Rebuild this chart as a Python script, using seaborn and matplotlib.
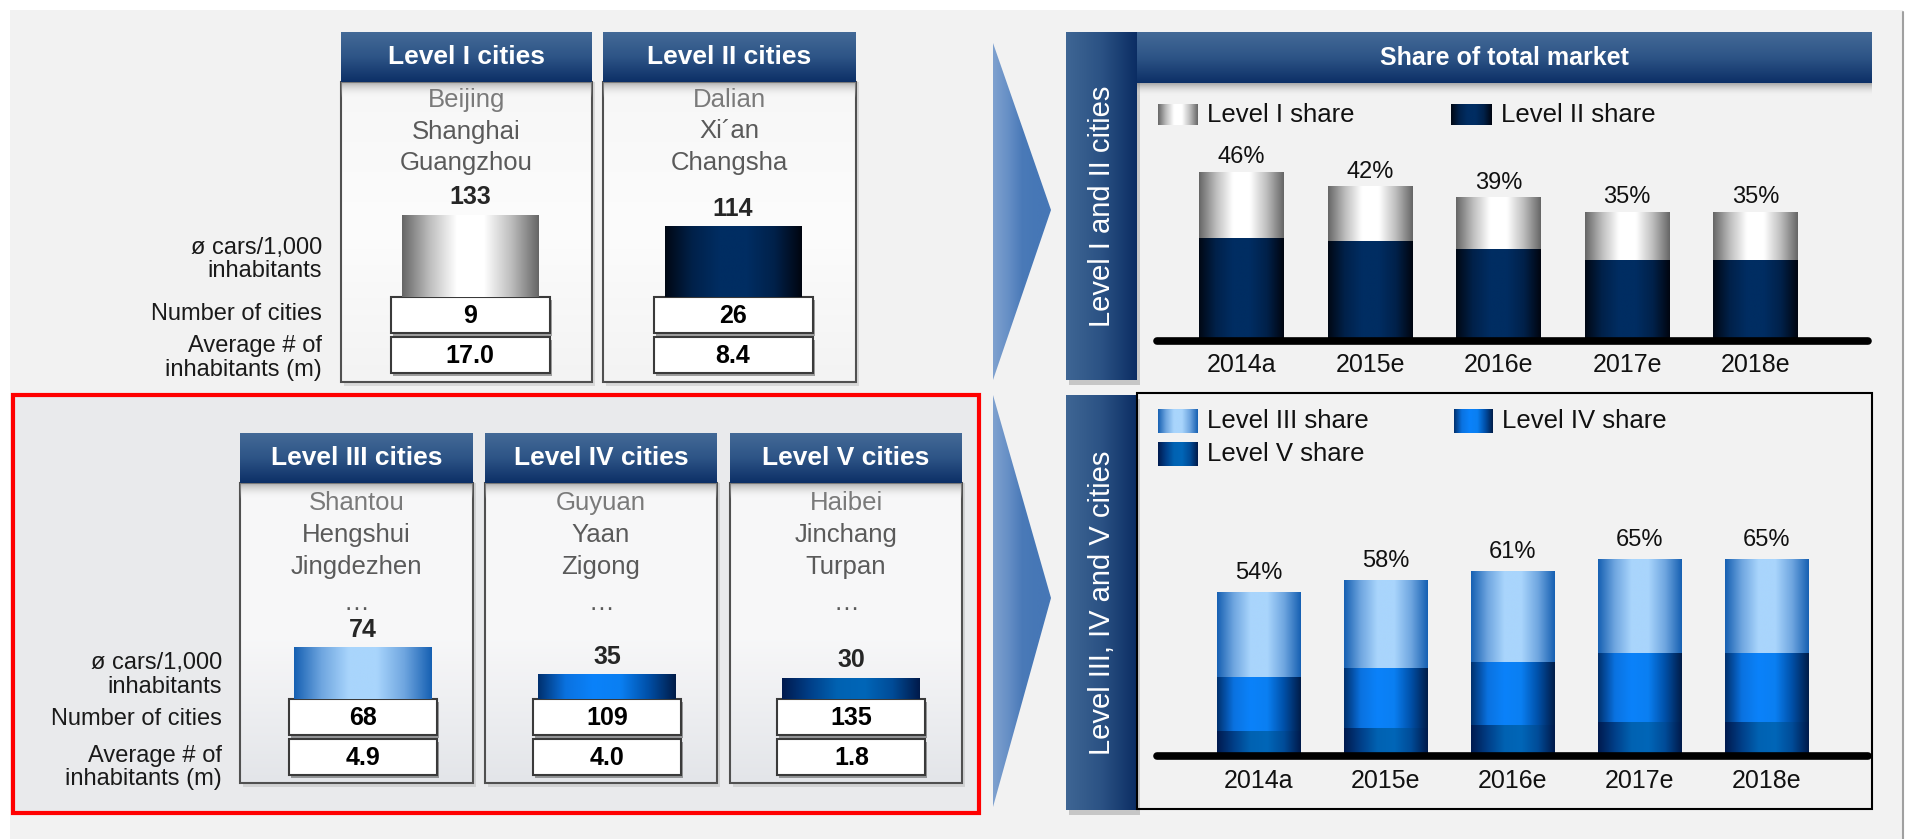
import numpy as np
import pandas as pd
import matplotlib
matplotlib.use("Agg")
import matplotlib.pyplot as plt
from matplotlib.patches import Rectangle, Polygon
from matplotlib.colors import to_rgba
import seaborn as sns

# ---------------- data ----------------
upper_levels = ["Level I cities", "Level II cities"]
upper_cities = [["Beijing", "Shanghai", "Guangzhou"],
                ["Dalian", "Xi\u00b4an", "Changsha"]]
upper_cars = [133, 114]
upper_num_cities = [9, 26]
upper_avg_inhab = [17.0, 8.4]

lower_levels = ["Level III cities", "Level IV cities", "Level V cities"]
lower_cities = [["Shantou", "Hengshui", "Jingdezhen", "\u2026"],
                ["Guyuan", "Yaan", "Zigong", "\u2026"],
                ["Haibei", "Jinchang", "Turpan", "\u2026"]]
lower_cars = [74, 35, 30]
lower_num_cities = [68, 109, 135]
lower_avg_inhab = [4.9, 4.0, 1.8]

years = ["2014a", "2015e", "2016e", "2017e", "2018e"]
share_l1 = [18, 15, 14, 13, 13]
share_l2 = [28, 27, 25, 22, 22]
share_l3 = [28, 29, 30, 31, 31]
share_l4 = [18, 20, 21, 23, 23]
share_l5 = [8, 9, 10, 11, 11]

row_labels = ["\u00f8 cars/1,000\ninhabitants", "Number of cities", "Average # of\ninhabitants (m)"]

# ---------------- styles ----------------
sns.set_theme(style="white")
plt.rcParams["font.family"] = ["Liberation Sans", "DejaVu Sans"]

GRAD = {
    "l1": ["#666666", "#bdbdbd", "#ffffff", "#ffffff", "#bdbdbd", "#666666"],
    "l2": ["#000814", "#00214a", "#002d62", "#002d62", "#00214a", "#000510"],
    "l3": ["#1660b2", "#6fa6e0", "#a9d5fc", "#a9d5fc", "#6fa6e0", "#1660b2"],
    "l4": ["#00306e", "#0a72e0", "#0a82fa", "#0a7ff2", "#0050a8", "#001c48"],
    "l5": ["#001a4e", "#003f88", "#0062b2", "#0066b8", "#004c98", "#001a4a"],
}
HEADER = ["#446a97", "#2d5486", "#0c2f66"]
SIDE = ["#3f6694", "#2b5284", "#0b2d63"]
W, H = 1909, 839


def grad_img(colors, n=256):
    cols = np.array([to_rgba(c) for c in colors])
    pos = np.linspace(0, 1, len(cols))
    t = np.linspace(0, 1, n)
    arr = np.stack([np.interp(t, pos, cols[:, k]) for k in range(4)], axis=-1)
    return arr[np.newaxis, :, :]


fig = plt.figure(figsize=(W / 100, H / 100), dpi=100)
fig.patch.set_facecolor("white")
bg = fig.add_axes([0, 0, 1, 1])
bg.set_xlim(0, W)
bg.set_ylim(H, 0)
bg.axis("off")


def rect(x0, y0, x1, y1, **kw):
    p = Rectangle((x0, y0), x1 - x0, y1 - y0, **kw)
    bg.add_patch(p)
    return p


def grad_rect(x0, y0, x1, y1, colors, vertical=False, zorder=1, clip=None):
    img = grad_img(colors)
    if vertical:
        img = img.transpose(1, 0, 2)
    im = bg.imshow(img, extent=(x0, x1, y1, y0), origin="upper", aspect="auto",
                   interpolation="bilinear", zorder=zorder)
    if clip is not None:
        im.set_clip_path(clip)
    return im


def px_axes(x0, y0, x1, y1):
    return fig.add_axes([x0 / W, 1 - y1 / H, (x1 - x0) / W, (y1 - y0) / H])


# ---------------- background ----------------
rect(10, 10, 1903, 839, fc="#f2f2f2", ec="none", zorder=0)
bg.plot([1903, 1903], [12, 839], color="#a0a0a0", lw=1.5, zorder=0.5)
rect(13, 395, 979, 813, fc="#e9eaec", ec="#ff0000", lw=3, zorder=1)


def column(x0, x1, yh0, yh1, yb1, title, body_cols):
    rect(x0 + 3, yh1, x1 + 3, yb1 + 4, fc="#000000", alpha=0.10, ec="none", zorder=2)
    grad_rect(x0, yh1, x1, yb1, body_cols, vertical=True, zorder=3)
    rect(x0, yh1, x1, yb1, fc="none", ec="#505050", lw=1.5, zorder=4)
    grad_rect(x0, yh1, x1, yh1 + 16, ["#8c8c8cb0", "#ffffff00"], vertical=True, zorder=4.5)
    grad_rect(x0, yh0, x1, yh1, HEADER, vertical=True, zorder=5)
    bg.text((x0 + x1) / 2, (yh0 + yh1) / 2, title, ha="center", va="center",
            color="white", fontsize=19, fontweight="bold", zorder=6)


def value_box(cx, w, y0, y1, text):
    rect(cx - w / 2 + 2, y0 + 3, cx + w / 2 + 2, y1 + 3, fc="#000000", alpha=0.35, ec="none", zorder=6)
    rect(cx - w / 2, y0, cx + w / 2, y1, fc="white", ec="#3a3a3a", lw=1.5, zorder=7)
    bg.text(cx, (y0 + y1) / 2 + 1, text, ha="center", va="center", fontsize=18,
            fontweight="bold", color="black", zorder=8)


def fmt(v):
    return f"{v:.1f}" if isinstance(v, float) else f"{v}"


# ---------------- left: upper panel ----------------
UP_AX = (338.5, 97, 864.5, 297)
up_step = (UP_AX[2] - UP_AX[0]) / len(upper_levels)
up_cols = [(341, 592), (603, 856)]
for i, lvl in enumerate(upper_levels):
    x0, x1 = up_cols[i]
    column(x0, x1, 32, 82, 382, lvl, ["#f7f7f7", "#fcfcfc", "#f3f3f3"])
    for j, c in enumerate(upper_cities[i]):
        bg.text((x0 + x1) / 2, 100 + j * 31.5, c, ha="center", va="center",
                fontsize=18.5, color="#7a7a7a" if j == 0 else "#5a5a5a", zorder=6)
    cx = UP_AX[0] + (i + 0.5) * up_step
    value_box(cx, 159, 297, 333, fmt(upper_num_cities[i]))
    value_box(cx, 159, 337, 373, fmt(upper_avg_inhab[i]))

for txt, y in zip(row_labels, [259.5, 314, 358]):
    bg.text(322, y, txt, ha="right", va="center", fontsize=17, color="#1a1a1a",
            linespacing=1.1, zorder=6)

# ---------------- left: lower panel ----------------
LO_AX = (241, 499, 973.5, 699)
lo_step = (LO_AX[2] - LO_AX[0]) / len(lower_levels)
lo_cols = [(240, 473), (485, 717), (730, 962)]
for i, lvl in enumerate(lower_levels):
    x0, x1 = lo_cols[i]
    column(x0, x1, 433, 483, 783, lvl, ["#f7f7f8", "#f8f8f9", "#e3e5e9"])
    for j, c in enumerate(lower_cities[i]):
        bg.text((x0 + x1) / 2, 503 + j * 32 + (4 if j == 3 else 0), c, ha="center",
                va="center", fontsize=18.5, color="#7a7a7a" if j == 0 else "#5a5a5a", zorder=6)
    cx = LO_AX[0] + (i + 0.5) * lo_step
    value_box(cx, 148, 699, 735, fmt(lower_num_cities[i]))
    value_box(cx, 148, 739, 775, fmt(lower_avg_inhab[i]))

for txt, y in zip(row_labels, [675, 719, 767.5]):
    bg.text(222, y, txt, ha="right", va="center", fontsize=17, color="#1a1a1a",
            linespacing=1.1, zorder=6)

# ---------------- chevrons ----------------
for (yt, ym, yb) in [(43, 210, 380), (395, 598, 807)]:
    tri = Polygon([(993, yt), (1051, ym), (993, yb)], closed=True, fc="none", ec="none")
    bg.add_patch(tri)
    grad_rect(993, yt, 1051, yb, ["#7fa1cf", "#6790c6", "#4a7ab8", "#4677b6", "#4677b6"],
              zorder=2, clip=tri)

# ---------------- right panels decoration ----------------
for (y0, y1, txt) in [(32, 380, "Level I and II cities"), (395, 810, "Level III, IV and V cities")]:
    rect(1069, y0 + 4, 1140, y1 + 5, fc="#000000", alpha=0.18, ec="none", zorder=2)
    grad_rect(1066, y0, 1137, y1, SIDE, zorder=3)
    bg.text(1102, (y0 + y1) / 2, txt, rotation=90, ha="center", va="center",
            color="white", fontsize=21, zorder=4)

grad_rect(1137, 83, 1872, 96, ["#7a7a7aa0", "#f2f2f200"], vertical=True, zorder=2)
grad_rect(1137, 32, 1872, 83, HEADER, vertical=True, zorder=3)
bg.text(1504, 58, "Share of total market", ha="center", va="center", color="white",
        fontsize=18, fontweight="bold", zorder=4)
rect(1137, 393, 1872, 809, fc="none", ec="black", lw=1.5, zorder=3)

# legends
legend_items = [
    (1158, 104, 1198, 125, "l1", "Level I share"),
    (1451, 104, 1492, 125, "l2", "Level II share"),
    (1158, 409, 1198, 433, "l3", "Level III share"),
    (1454, 409, 1493, 433, "l4", "Level IV share"),
    (1158, 442, 1198, 466, "l5", "Level V share"),
]
for (x0, y0, x1, y1, key, label) in legend_items:
    grad_rect(x0, y0, x1, y1, GRAD[key], zorder=4)
    bg.text(x1 + 9, (y0 + y1) / 2, label, ha="left", va="center", fontsize=18.5,
            color="#111111", zorder=4)


# ---------------- data-driven bars ----------------
def paint_bars(ax, patches, keys, zorder):
    for p, key in zip(patches, keys):
        x, y = p.get_x(), p.get_y()
        w, h = p.get_width(), p.get_height()
        p.set_facecolor("none")
        p.set_edgecolor("none")
        ax.imshow(grad_img(GRAD[key]), extent=(x, x + w, y, y + h), aspect="auto",
                  interpolation="bilinear", zorder=zorder)


def bar_layer(ax, cats, vals, width, keys, zorder):
    n0 = len(ax.patches)
    df = pd.DataFrame({"cat": cats, "val": vals})
    sns.barplot(data=df, x="cat", y="val", order=cats, width=width, color="#888888",
                saturation=1, ax=ax, errorbar=None)
    paint_bars(ax, ax.patches[n0:], keys, zorder)


# upper cars bars
ax_up = px_axes(*UP_AX)
bar_layer(ax_up, upper_levels, upper_cars, 0.52, ["l1", "l2"], 2)
for i, v in enumerate(upper_cars):
    ax_up.annotate(f"{v}", xy=(i, v), xytext=(0, 13), textcoords="offset points",
                   ha="center", va="center", fontsize=18, fontweight="bold")
ax_up.set_xlim(-0.5, len(upper_levels) - 0.5)
ax_up.set_ylim(0, 200 / 0.615)
ax_up.axis("off")

# lower cars bars
ax_lo = px_axes(*LO_AX)
bar_layer(ax_lo, lower_levels, lower_cars, 0.565, ["l3", "l4", "l5"], 2)
for i, v in enumerate(lower_cars):
    ax_lo.annotate(f"{v}", xy=(i, v), xytext=(0, 13), textcoords="offset points",
                   ha="center", va="center", fontsize=18, fontweight="bold")
ax_lo.set_xlim(-0.5, len(lower_levels) - 0.5)
ax_lo.set_ylim(0, 200 / 0.69)
ax_lo.axis("off")


def style_chart(ax, xlim, ylim):
    ax.set_xlim(*xlim)
    ax.set_ylim(*ylim)
    ax.set_facecolor("none")
    for s in ax.spines.values():
        s.set_visible(False)
    ax.set_yticks([])
    ax.set_xlabel("")
    ax.set_ylabel("")
    ax.set_xticks(range(len(years)))
    ax.set_xticklabels(years, fontsize=18, color="#111111")
    ax.tick_params(axis="x", length=0, pad=9)
    ax.axhline(0, color="black", lw=5.5, solid_capstyle="round", clip_on=False, zorder=6)


n_years = len(years)

# top-right stacked chart
ax_rt = px_axes(1157, 101, 1868, 341)
top_total = [a + b for a, b in zip(share_l1, share_l2)]
bar_layer(ax_rt, years, top_total, 0.66, ["l1"] * n_years, 2)
bar_layer(ax_rt, years, share_l2, 0.66, ["l2"] * n_years, 3)
for i, v in enumerate(top_total):
    ax_rt.annotate(f"{v}%", xy=(i, v), xytext=(0, 11), textcoords="offset points",
                   ha="center", va="center", fontsize=17, color="#111111")
style_chart(ax_rt, (-0.658, 4.875), (0, 240 / 3.67))

# bottom-right stacked chart
ax_rb = px_axes(1157, 516, 1868, 756)
lv45 = [a + b for a, b in zip(share_l4, share_l5)]
bot_total = [a + b for a, b in zip(share_l3, lv45)]
bar_layer(ax_rb, years, bot_total, 0.654, ["l3"] * n_years, 2)
bar_layer(ax_rb, years, lv45, 0.654, ["l4"] * n_years, 3)
bar_layer(ax_rb, years, share_l5, 0.654, ["l5"] * n_years, 4)
for i, v in enumerate(bot_total):
    ax_rb.annotate(f"{v}%", xy=(i, v), xytext=(0, 14), textcoords="offset points",
                   ha="center", va="center", fontsize=17, color="#111111")
style_chart(ax_rb, (-0.8, 4.8), (0, 240 / 3.02))

fig.savefig("out.png", dpi=100, facecolor="white")
